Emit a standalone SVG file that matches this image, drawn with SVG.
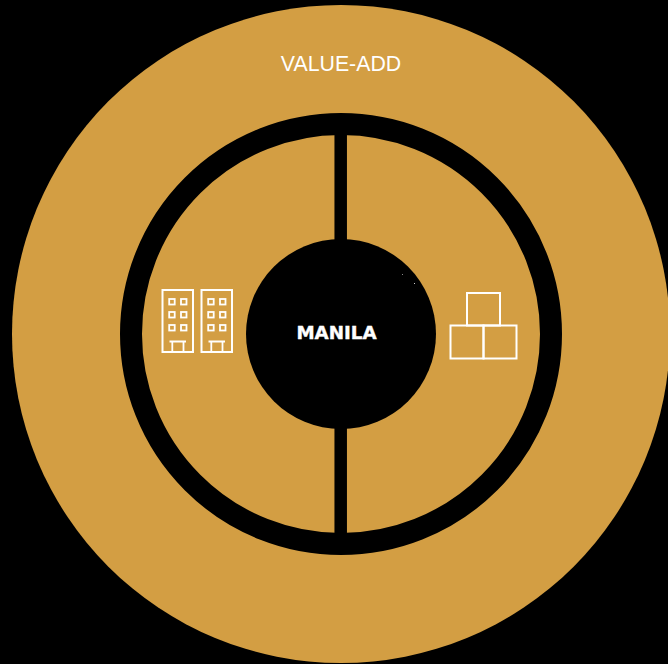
<svg xmlns="http://www.w3.org/2000/svg" width="668" height="664" viewBox="0 0 668 664">
<style>
.ico{fill:none;stroke:#fff;stroke-width:2}
.win{fill:none;stroke:#fff;stroke-width:1.8}
text{fill:#fff}
</style>
<defs>
<g id="building">
<rect class="ico" x="162.500" y="290" width="30.500" height="62"/>
<rect class="win" x="169.200" y="299" width="5.500" height="5.500"/>
<rect class="win" x="181" y="299" width="5.500" height="5.500"/>
<rect class="win" x="169.200" y="312" width="5.500" height="5.500"/>
<rect class="win" x="181" y="312" width="5.500" height="5.500"/>
<rect class="win" x="169.200" y="325" width="5.500" height="5.500"/>
<rect class="win" x="181" y="325" width="5.500" height="5.500"/>
<path class="win" d="M169.500 341.500H186M172.300 341.500V352M183.500 341.500V352"/>
</g>
</defs>
<rect width="668" height="664" fill="#000"/>
<g id="outer-ring"><circle cx="341" cy="334" r="329" fill="#d39e43"/></g>
<g id="inner-ring"><circle cx="341" cy="334" r="210" fill="#d39e43" stroke="#000" stroke-width="22"/></g>
<g id="connectors"><path d="M340.700 125V543" stroke="#000" stroke-width="12.500" fill="none"/></g>
<g id="manila">
<circle cx="341" cy="334" r="95" fill="#000"/>
<rect x="402" y="274" width="1" height="1" fill="#888"/>
<rect x="414" y="283" width="1" height="1" fill="#ccc"/>
<text x="336.500" y="339" text-anchor="middle" font-family="'DejaVu Sans',sans-serif" font-weight="700" font-size="18.300" stroke="#fff" stroke-width="0.400">MANILA</text>
</g>
<g id="value-add"><text x="341" y="71" text-anchor="middle" font-family="'Liberation Sans',Arial,sans-serif" font-size="21.300">VALUE-ADD</text></g>
<g id="buildings-icon"><use href="#building"/><use href="#building" x="39"/></g>
<g id="boxes-icon">
<rect class="ico" x="467" y="293" width="33" height="32.500"/>
<rect class="ico" x="450.500" y="325.500" width="33" height="33"/>
<rect class="ico" x="483.500" y="325.500" width="33" height="33"/>
</g>
</svg>
